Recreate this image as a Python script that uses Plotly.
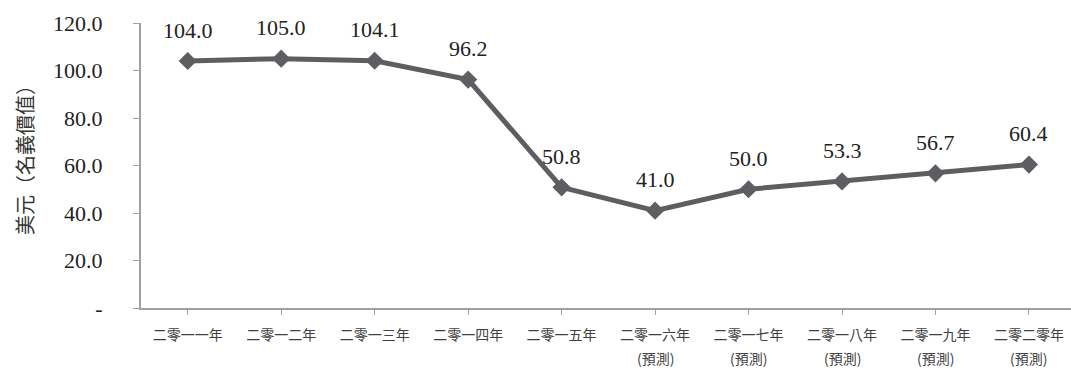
import plotly.graph_objects as go

categories = ["二零一一年", "二零一二年", "二零一三年", "二零一四年", "二零一五年",
              "二零一六年", "二零一七年", "二零一八年", "二零一九年", "二零二零年"]
forecast = [False, False, False, False, False, True, True, True, True, True]
forecast_label = "(預測)"
values = [104.0, 105.0, 104.1, 96.2, 50.8, 41.0, 50.0, 53.3, 56.7, 60.4]
y_ticks = [0, 20, 40, 60, 80, 100, 120]
y_ticklabels = ["-", "20.0", "40.0", "60.0", "80.0", "100.0", "120.0"]
y_title = "美元（名義價值）"

SERIF = "Liberation Serif"
CJK = "Noto Sans CJK TC"
xs = list(range(len(categories)))

fig = go.Figure()
fig.add_trace(go.Scatter(
    x=xs, y=values, mode="lines+markers",
    line=dict(color="#5e5e62", width=5),
    marker=dict(symbol="diamond", size=14, color="#5e5e62"),
    hoverinfo="skip", showlegend=False,
))

annotations = []
for x, v in zip(xs, values):
    annotations.append(dict(
        x=x, y=v, xref="x", yref="y", text=f"{v:.1f}", showarrow=False,
        yshift=31, font=dict(family=SERIF, size=22, color="#222222"),
    ))
for x, f in zip(xs, forecast):
    if f:
        annotations.append(dict(
            x=x, y=0, xref="x", yref="paper", text=forecast_label, showarrow=False,
            yshift=-50, yanchor="middle",
            font=dict(family=CJK, size=14, color="#404040"),
        ))
annotations.append(dict(
    x=-(141 - 24) / 930, y=(308 - 155) / 285, xref="paper", yref="paper", text=y_title,
    textangle=-90, showarrow=False, xanchor="center", yanchor="middle",
    font=dict(family=CJK, size=20, color="#333333"),
))

fig.update_layout(
    width=1071, height=379,
    margin=dict(l=141, r=0, t=23, b=71),
    paper_bgcolor="white", plot_bgcolor="white",
    annotations=annotations,
    xaxis=dict(
        range=[-0.5, 9.45], tickmode="array", tickvals=xs, ticktext=categories,
        tickson="boundaries", ticks="outside", ticklen=5, tickcolor="#a0a0a0", tickwidth=1,
        showline=True, linecolor="#a0a0a0", linewidth=2, showgrid=False, zeroline=False,
        tickfont=dict(family=CJK, size=14, color="#404040"),
        ticklabelstandoff=8,
    ),
    yaxis=dict(
        range=[0, 120], tickmode="array", tickvals=y_ticks, ticktext=y_ticklabels,
        ticks="outside", ticklen=6, tickcolor="#a0a0a0", tickwidth=1,
        showline=True, linecolor="#a0a0a0", linewidth=2, showgrid=False, zeroline=False,
        tickfont=dict(family=SERIF, size=22, color="#222222"),
        ticklabelstandoff=26,
    ),
)

fig.write_html("out.html")
